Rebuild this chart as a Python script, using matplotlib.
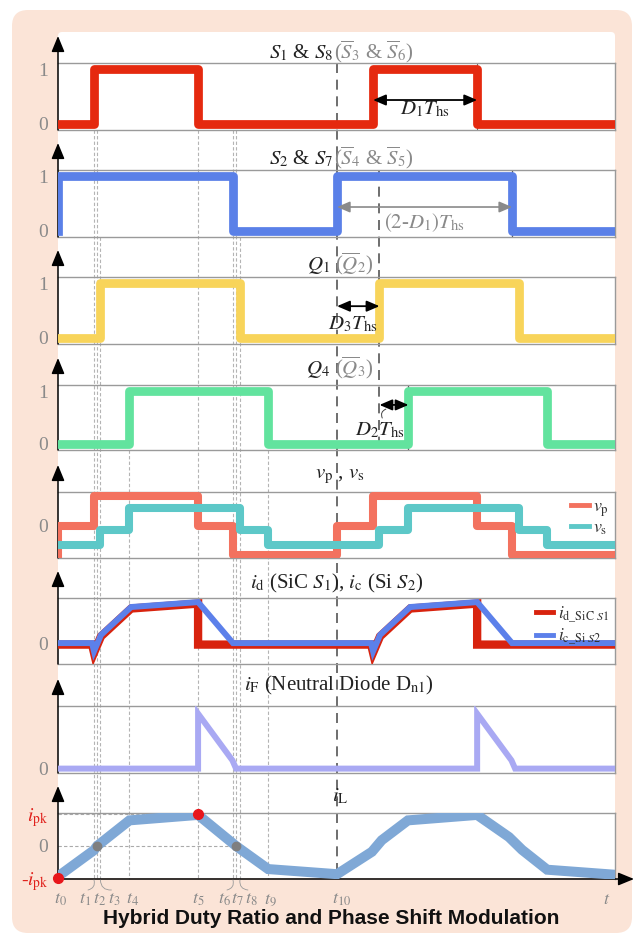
import matplotlib
matplotlib.use('Agg')
import matplotlib.pyplot as plt
from matplotlib.patches import FancyBboxPatch, ArrowStyle
from matplotlib.lines import Line2D
import matplotlib.transforms as mtransforms

plt.rcParams['font.family'] = ['Liberation Serif', 'DejaVu Serif']
plt.rcParams['mathtext.fontset'] = 'stix'

# ---------------- data ----------------
t_labels = [r'$t_{0}$', r'$t_{1}$', r'$t_{2}$', r'$t_{3}$', r'$t_{4}$', r'$t_{5}$',
            r'$t_{6}$', r'$t_{7}$', r'$t_{8}$', r'$t_{9}$', r'$t_{10}$']
t_vals = [0.0, 0.129, 0.140, 0.152, 0.256, 0.502, 0.627, 0.638, 0.652, 0.753, 1.0]

# gate signals (edge times, level held until next edge)
s1_t = [0.0, 0.129, 0.502, 1.129, 1.502]
s1_v = [0, 1, 0, 1, 0]
s2_t = [0.0, 0.0, 0.627, 1.0, 1.627]
s2_v = [0, 1, 0, 1, 0]
q1_t = [0.0, 0.152, 0.652, 1.152, 1.652]
q1_v = [0, 1, 0, 1, 0]
q4_t = [0.0, 0.256, 0.753, 1.256, 1.753]
q4_v = [0, 1, 0, 1, 0]

# bridge voltages (step)
vp_t = [0.0, 0.0, 0.129, 0.502, 0.627, 1.0, 1.129, 1.502, 1.627]
vp_v = [-1, 0, 1, 0, -1, 0, 1, 0, -1]
vs_t = [0.0, 0.152, 0.256, 0.652, 0.753, 1.152, 1.256, 1.652, 1.753]
vs_v = [-0.65, -0.15, 0.6, -0.15, -0.65, -0.15, 0.6, -0.15, -0.65]

# switch currents (piecewise linear)
id_t = [0.0, 0.122, 0.129, 0.154, 0.262, 0.502, 0.502, 1.122, 1.129, 1.154, 1.262, 1.502, 1.502, 2.0]
id_v = [0, 0, -0.2, 0.2, 0.88, 1.0, 0, 0, -0.2, 0.2, 0.88, 1.0, 0, 0]
ic_t = [0.0, 0.122, 0.129, 0.154, 0.262, 0.502, 0.627, 1.122, 1.129, 1.154, 1.262, 1.502, 1.627, 2.0]
ic_v = [0, 0, -0.2, 0.2, 0.88, 1.0, 0, 0, -0.2, 0.2, 0.88, 1.0, 0, 0]

# neutral diode current
if_t = [0.0, 0.502, 0.502, 0.625, 0.638, 1.502, 1.502, 1.625, 1.638, 2.0]
if_v = [0, 0, 1, 0.15, 0, 0, 1, 0.15, 0, 0]

# inductor current
il_t = [0.0, 0.129, 0.140, 0.256, 0.502, 0.638, 0.753, 1.0,
        1.125, 1.160, 1.254, 1.502, 1.616, 1.663, 1.753, 2.0]
il_v = [-0.95, -0.13, 0.0, 0.8, 0.97, 0.0, -0.72, -0.88,
        -0.18, 0.18, 0.8, 0.97, 0.28, -0.12, -0.74, -0.9]

# ---------------- colours ----------------
C_S1 = '#E5290F'
C_S2 = '#5A80E8'
C_Q1 = '#F8D45A'
C_Q4 = '#62E39E'
C_VP = '#F3725F'
C_VS = '#5DC8C8'
C_ID = '#D8230E'
C_IC = '#5C80EA'
C_IF = '#A9A9F3'
C_IL = '#7FA8D6'
GRAY = '#8a8a8a'
BOXC = '#9a9a9a'
RED = '#E0201B'

W, H = 634, 936
fig = plt.figure(figsize=(W / 100, H / 100), dpi=100)
fig.patch.set_facecolor('white')
PX = mtransforms.Affine2D().scale(1 / W, -1 / H).translate(0, 1) + fig.transFigure

# background frames
fig.add_artist(FancyBboxPatch((12, 10), 620, 923, boxstyle='round,pad=0,rounding_size=16',
                              transform=PX, fc='#FBE4D7', ec='none', zorder=-3))
fig.add_artist(FancyBboxPatch((58, 32), 557, 846, boxstyle='round,pad=0,rounding_size=4',
                              transform=PX, fc='white', ec='none', zorder=-2))

X0, X1 = 58, 615
XMAX = 1.996
panels = [(63, 130), (170, 237), (277, 344), (385, 450),
          (492, 558), (598, 664), (706, 773), (813, 879)]
ylims = [(-0.12, 1.12)] * 4 + [(-1.10, 1.14), (-0.51, 1.10), (-0.08, 1.14), (-1.03, 1.03)]

axes = []
for i, ((top, bot), yl) in enumerate(zip(panels, ylims)):
    ax = fig.add_axes([X0 / W, 1 - bot / H, (X1 - X0) / W, (bot - top) / H])
    ax.set_xlim(0, XMAX)
    ax.set_ylim(*yl)
    ax.patch.set_visible(False)
    ax.spines['left'].set_visible(False)
    for s in ['top', 'right', 'bottom']:
        ax.spines[s].set_color(BOXC)
        ax.spines[s].set_linewidth(1.0)
    if i == 7:
        ax.spines['bottom'].set_visible(False)
    ax.set_xticks([])
    ax.tick_params(axis='y', length=0, pad=7, labelcolor=GRAY, labelsize=14)
    axes.append(ax)
    # vertical axis arrow
    ax.annotate('', xy=(58, top - 27), xytext=(58, bot), xycoords=PX, textcoords=PX,
                arrowprops=dict(arrowstyle=ArrowStyle('-|>', head_length=0.8, head_width=0.33),
                                color='k', lw=1.1, mutation_scale=12, shrinkA=0, shrinkB=0))

# horizontal time arrow
axes[7].annotate('', xy=(634, 879), xytext=(58, 879), xycoords=PX, textcoords=PX,
                 arrowprops=dict(arrowstyle=ArrowStyle('-|>', head_length=0.8, head_width=0.33),
                                 color='k', lw=1.1, mutation_scale=12, shrinkA=0, shrinkB=0))

# vertical guide lines
trans = mtransforms.blended_transform_factory(axes[7].transData, PX)
guide_start = [None, 130, 130, 237, 450, 130, 130, 130, 237, 450, None]
for tv, st in zip(t_vals, guide_start):
    if st is None:
        continue
    fig.add_artist(Line2D([tv, tv], [st, 879], transform=trans, color='#b4b4b4',
                          lw=0.8, dashes=(3, 2), zorder=-1))
fig.add_artist(Line2D([t_vals[10], t_vals[10]], [63, 879], transform=trans, color='#555555',
                      lw=1.2, dashes=(6, 4), zorder=-1))
fig.add_artist(Line2D([q1_t[3], q1_t[3]], [170, 450], transform=trans, color='#555555',
                      lw=1.2, dashes=(6, 4), zorder=-1))

# ---- gate panels ----
gate = [(s1_t, s1_v, C_S1), (s2_t, s2_v, C_S2), (q1_t, q1_v, C_Q1), (q4_t, q4_v, C_Q4)]
for ax, (tt, vv, c) in zip(axes[:4], gate):
    ax.step(list(tt) + [2.0], list(vv) + [vv[-1]], where='post', color=c, lw=6.3,
            solid_joinstyle='round', zorder=3)
    ax.set_yticks([0, 1])
    ax.set_yticklabels(['0', '1'])

axes[0].axvline(s1_t[4], color='#666666', lw=0.8, zorder=1)
axes[1].axvline(s2_t[4], color='#555555', lw=0.9, zorder=1)
axes[3].axvline(q4_t[3], color='#555555', lw=0.9, zorder=1)

arrow_k = dict(arrowstyle=ArrowStyle('<|-|>', head_length=0.7, head_width=0.3), color='k',
               lw=1.3, mutation_scale=11, shrinkA=0, shrinkB=0)
arrow_g = dict(arrowstyle=ArrowStyle('<|-|>', head_length=0.7, head_width=0.3), color='#8a8a8a',
               lw=1.2, mutation_scale=11, shrinkA=0, shrinkB=0)

axes[0].annotate('', xy=(s1_t[4], 0.435), xytext=(s1_t[3], 0.435), arrowprops=arrow_k)
axes[0].text((s1_t[3] + s1_t[4]) / 2, 0.26, r'$D_1T_{\rm hs}$', ha='center', va='center',
             fontsize=15, color='#222222')
axes[1].annotate('', xy=(s2_t[4], 0.435), xytext=(s2_t[3], 0.435), arrowprops=arrow_g)
axes[1].text((s2_t[3] + s2_t[4]) / 2, 0.15, r'$(2$-$D_1)T_{\rm hs}$', ha='center', va='center',
             fontsize=15, color=GRAY)
axes[2].annotate('', xy=(q1_t[3], 0.58), xytext=(t_vals[10], 0.58), arrowprops=arrow_k)
axes[2].text(1.057, 0.24, r'$D_3T_{\rm hs}$', ha='center', va='center', fontsize=15, color='#222222')
axes[3].annotate('', xy=(q4_t[3], 0.74), xytext=(q1_t[3], 0.74), arrowprops=arrow_k)
axes[3].text(1.154, 0.25, r'$D_2T_{\rm hs}$', ha='center', va='center', fontsize=15, color='#222222')
axes[3].annotate('', xy=(1.175, 0.66), xytext=(1.162, 0.49),
                 arrowprops=dict(arrowstyle='-', lw=0.7, color='#444444',
                                 connectionstyle='arc3,rad=-0.5', shrinkA=0, shrinkB=0))

# ---- voltages ----
ax = axes[4]
ax.step(list(vp_t) + [2.0], list(vp_v) + [vp_v[-1]], where='post', color=C_VP, lw=5.8, zorder=3)
ax.step(list(vs_t) + [2.0], list(vs_v) + [vs_v[-1]], where='post', color=C_VS, lw=5.8, zorder=4)
ax.set_yticks([0])
ax.set_yticklabels(['0'])
h = [Line2D([], [], color=C_VP, lw=3.5), Line2D([], [], color=C_VS, lw=3.5)]
leg = ax.legend(h, [r'$v_{\rm p}$', r'$v_{\rm s}$'], loc='upper right', frameon=False,
                fontsize=13, handlelength=1.0, handletextpad=0.2, labelspacing=0.05,
                borderaxespad=0.15, borderpad=0.2)
for tx in leg.get_texts():
    tx.set_color('#333333')

# ---- switch currents ----
ax = axes[5]
off = mtransforms.ScaledTranslation(0, -1.5 / 100, fig.dpi_scale_trans)
ax.plot(id_t, id_v, color=C_ID, lw=6.0, zorder=3, transform=ax.transData + off,
        solid_joinstyle='miter')
ax.plot(ic_t, ic_v, color=C_IC, lw=4.3, zorder=4, solid_joinstyle='miter')
ax.set_yticks([0])
ax.set_yticklabels(['0'])
h = [Line2D([], [], color=C_ID, lw=3.5), Line2D([], [], color=C_IC, lw=3.5)]
leg = ax.legend(h, [r'$i_{\mathrm{d\_SiC}\ S1}$', r'$i_{\mathrm{c\_Si}\ S2}$'], loc='upper right',
                frameon=False, fontsize=12.5, handlelength=1.0, handletextpad=0.25,
                labelspacing=0.1, borderaxespad=0.1, borderpad=0.25)
for tx in leg.get_texts():
    tx.set_color('#333333')

# ---- neutral diode current ----
ax = axes[6]
ax.plot(if_t, if_v, color=C_IF, lw=4.3, zorder=3, solid_joinstyle='miter')
ax.set_yticks([0])
ax.set_yticklabels(['0'])

# ---- inductor current ----
ax = axes[7]
ax.plot(il_t, il_v, color=C_IL, lw=7.2, zorder=3, solid_joinstyle='miter', solid_capstyle='butt')
ax.plot([0, t_vals[7]], [0, 0], color='#aaaaaa', lw=0.8, dashes=(3, 2), zorder=2)
ax.plot([0, t_vals[5]], [1, 1], color='#aaaaaa', lw=0.8, dashes=(3, 2), zorder=2)
ax.plot([t_vals[2], t_vals[7]], [0, 0], 'o', color='#7f7f7f', ms=6, zorder=5, clip_on=False)
ax.plot([t_vals[0], t_vals[5]], [-1, 1], 'o', color='#E8161B', ms=7, zorder=6, clip_on=False)
ax.set_yticks([-1, 0, 1])
ax.set_yticklabels([r'-$i_{\rm pk}$', '0', r'$i_{\rm pk}$'])
for lbl, c in zip(ax.get_yticklabels(), [RED, GRAY, RED]):
    lbl.set_color(c)

# time tick labels below axis
tlab_dx = [2, -9, 2, 14, 3, 0, -9, 1, 11, 2, 5]
for lab, tv, dx in zip(t_labels, t_vals, tlab_dx):
    ax.annotate(lab, xy=(tv, 900), xycoords=trans, xytext=(dx, 0), textcoords='offset pixels',
                ha='center', va='center', fontsize=13, color=GRAY)
ax.annotate(r'$t$', xy=(XMAX, 900), xycoords=trans, xytext=(-8, 0), textcoords='offset pixels',
            ha='center', va='center', fontsize=13, color=GRAY)
for idx, rad in [(1, 0.5), (3, -0.5), (6, 0.5), (8, -0.5)]:
    ax.annotate('', xy=(t_vals[idx], 880), xycoords=trans,
                xytext=(tlab_dx[idx] + (3 if rad > 0 else -3), -10), textcoords='offset pixels',
                arrowprops=dict(arrowstyle='-', lw=0.6, color='#999999',
                                connectionstyle='arc3,rad=%g' % rad, shrinkA=0, shrinkB=0))

# ---- panel titles (multi-colour) ----
renderer = fig.canvas.get_renderer()


def title_pieces(cx, base_y, pieces, size=15, gap=0):
    objs, widths = [], []
    for s, c in pieces:
        t = fig.text(0, 0, s, color=c, fontsize=size, ha='left', va='baseline', transform=PX)
        widths.append(t.get_window_extent(renderer=renderer).width)
        objs.append(t)
    total = sum(widths) + gap * (len(pieces) - 1)
    x = cx - total / 2
    for t, w in zip(objs, widths):
        t.set_position((x, base_y))
        x += w + gap


title_pieces(341, 58, [(r'$S_1$ & $S_8$', '#222222'),
                       (r'($\overline{S}_3$ & $\overline{S}_6$)', GRAY)], gap=1)
title_pieces(341, 164, [(r'$S_2$ & $S_7$', '#222222'),
                        (r'($\overline{S}_4$ & $\overline{S}_5$)', GRAY)], gap=1)
title_pieces(340, 270, [(r'$Q_1$', '#222222'), (r'($\overline{Q}_2$)', GRAY)], gap=5)
title_pieces(340, 374, [(r'$Q_4$', '#222222'), (r'($\overline{Q}_3$)', GRAY)], gap=5)
title_pieces(340, 478, [(r'$v_{\rm p}$ , $v_{\rm s}$', '#222222')])
title_pieces(337, 588, [(r'$i_{\rm d}$ (SiC $S_1$), $i_{\rm c}$ (Si $S_2$)', '#222222')])
title_pieces(339, 690, [(r'$i_{\rm F}$ (Neutral Diode D$_{\rm n1}$)', '#222222')])
title_pieces(340, 801, [(r'$i_{\rm L}$', '#222222')])

fig.text(331, 919, 'Hybrid Duty Ratio and Phase Shift Modulation', transform=PX,
         ha='center', va='center', fontsize=15, fontweight='bold',
         family=['Liberation Sans', 'DejaVu Sans'], color='#111111')

fig.savefig('out.png', dpi=100, facecolor='white')
